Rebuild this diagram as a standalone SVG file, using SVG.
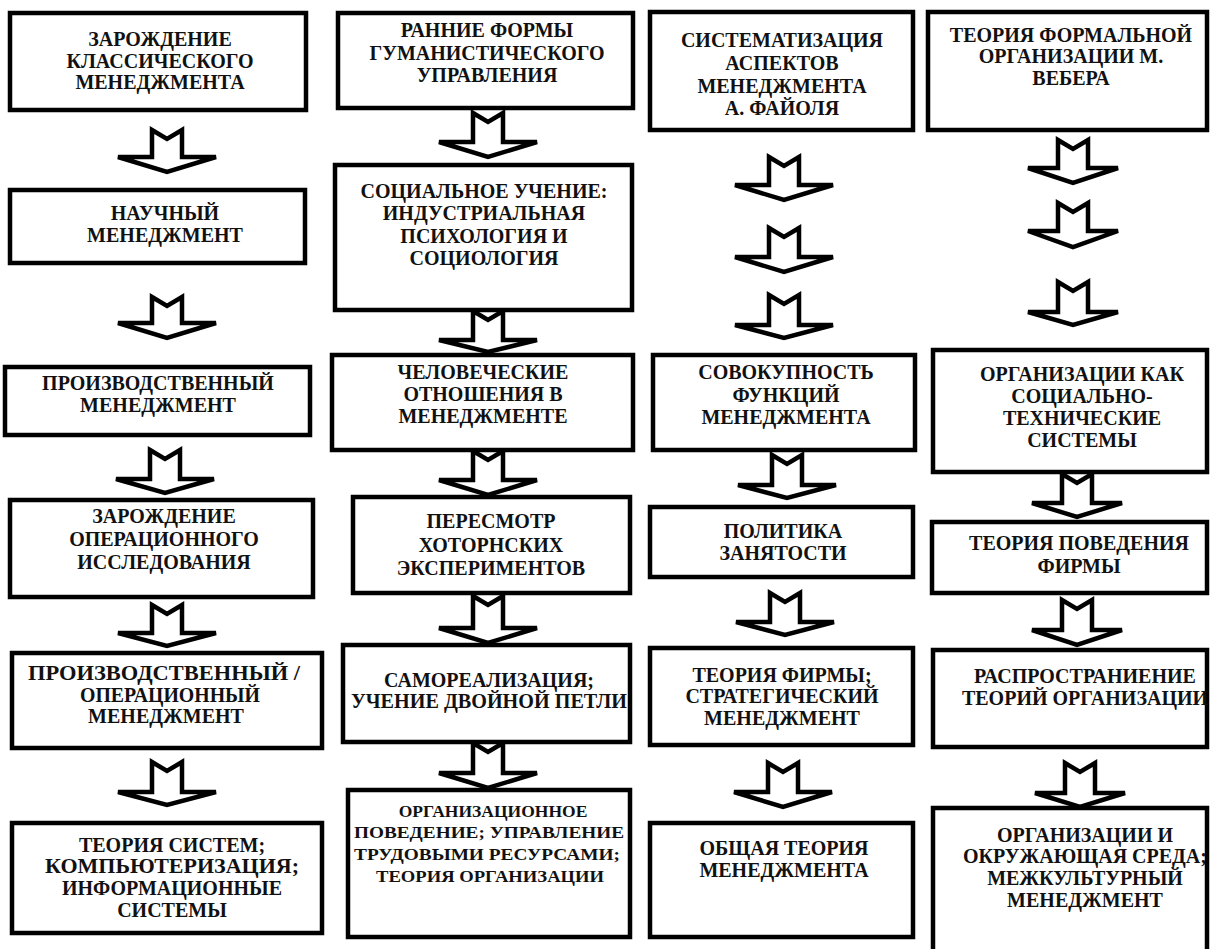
<svg xmlns="http://www.w3.org/2000/svg" width="1210" height="949" viewBox="0 0 1210 949">
  <style>
    .box { fill: #ffffff; stroke: #000000; stroke-width: 4.5; }
    .arr { fill: #ffffff; stroke: #000000; stroke-width: 4.5; stroke-linejoin: miter; }
    text { font-family: "Liberation Serif", "Times New Roman", serif; font-weight: bold; font-size: 20px; text-anchor: middle; fill: #111111; }
    .sm { font-size: 17.5px; }
  </style>
  <rect x="0" y="0" width="1210" height="949" fill="#ffffff"/>

  <!-- block arrows with notched tails -->
  <g id="connectors">
    <!-- column 1, cx 167 -->
    <path class="arr" d="M152,130 L167,139 L182,130 L182,157 L216,157 L167,172 L118,157 L152,157 Z"/>
    <path class="arr" d="M152,297 L167,306 L182,297 L182,323 L216,323 L167,338 L118,323 L152,323 Z"/>
    <path class="arr" d="M150,450 L165,459 L180,450 L180,479 L214,479 L165,493 L116,479 L150,479 Z"/>
    <path class="arr" d="M152,605 L167,614 L182,605 L182,633 L216,633 L167,646 L118,633 L152,633 Z"/>
    <path class="arr" d="M152,762 L167,771 L182,762 L182,792 L216,792 L167,805 L118,792 L152,792 Z"/>
    <!-- column 2, cx 488 -->
    <path class="arr" d="M473,113 L488,122 L503,113 L503,142 L537,142 L488,157 L439,142 L473,142 Z"/>
    <path class="arr" d="M473,311 L488,320 L503,311 L503,340 L537,340 L488,352 L439,340 L473,340 Z"/>
    <path class="arr" d="M473,451 L488,460 L503,451 L503,480 L537,480 L488,495 L439,480 L473,480 Z"/>
    <path class="arr" d="M473,596 L488,605 L503,596 L503,628 L537,628 L488,643 L439,628 L473,628 Z"/>
    <path class="arr" d="M473,743 L488,752 L503,743 L503,773 L537,773 L488,788 L439,773 L473,773 Z"/>
    <!-- column 3, cx 784 -->
    <path class="arr" d="M769,157 L784,166 L799,157 L799,185 L833,185 L784,200 L735,185 L769,185 Z"/>
    <path class="arr" d="M769,228 L784,237 L799,228 L799,257 L833,257 L784,272 L735,257 L769,257 Z"/>
    <path class="arr" d="M769,295 L784,304 L799,295 L799,325 L833,325 L784,338 L735,325 L769,325 Z"/>
    <path class="arr" d="M772,455 L787,464 L802,455 L802,485 L836,485 L787,498 L738,485 L772,485 Z"/>
    <path class="arr" d="M770,593 L785,602 L800,593 L800,622 L834,622 L785,635 L736,622 L770,622 Z"/>
    <path class="arr" d="M768,763 L783,772 L798,763 L798,792 L832,792 L783,807 L734,792 L768,792 Z"/>
    <!-- column 4 -->
    <path class="arr" d="M1058,140 L1073,149 L1088,140 L1088,168 L1118,168 L1073,183 L1028,168 L1058,168 Z"/>
    <path class="arr" d="M1058,203 L1073,212 L1088,203 L1088,231 L1118,231 L1073,247 L1028,231 L1058,231 Z"/>
    <path class="arr" d="M1058,282 L1073,291 L1088,282 L1088,312 L1118,312 L1073,325 L1028,312 L1058,312 Z"/>
    <path class="arr" d="M1062,474 L1077,483 L1092,474 L1092,503 L1122,503 L1077,517 L1032,503 L1062,503 Z"/>
    <path class="arr" d="M1062,600 L1077,609 L1092,600 L1092,630 L1122,630 L1077,645 L1032,630 L1062,630 Z"/>
    <path class="arr" d="M1065,763 L1080,772 L1095,763 L1095,793 L1125,793 L1080,807 L1035,793 L1065,793 Z"/>
  </g>

  <!-- column 1: classical management -->
  <g id="n1"><rect class="box" x="10" y="13" width="296" height="97"/>
    <text x="160" y="46">ЗАРОЖДЕНИЕ</text><text x="160" y="68">КЛАССИЧЕСКОГО</text><text x="160" y="89">МЕНЕДЖМЕНТА</text></g>
  <g id="n2"><rect class="box" x="10" y="190" width="295" height="73"/>
    <text x="165" y="220">НАУЧНЫЙ</text><text x="165" y="242">МЕНЕДЖМЕНТ</text></g>
  <g id="n3"><rect class="box" x="5" y="367" width="305" height="68"/>
    <text x="158" y="390">ПРОИЗВОДСТВЕННЫЙ</text><text x="158" y="412">МЕНЕДЖМЕНТ</text></g>
  <g id="n4"><rect class="box" x="10" y="500" width="303" height="97"/>
    <text x="164" y="523">ЗАРОЖДЕНИЕ</text><text x="164" y="546">ОПЕРАЦИОННОГО</text><text x="164" y="569">ИССЛЕДОВАНИЯ</text></g>
  <g id="n5"><rect class="box" x="12" y="653" width="310" height="95"/>
    <text x="164" y="680" textLength="272" lengthAdjust="spacingAndGlyphs">ПРОИЗВОДСТВЕННЫЙ /</text><text x="170" y="702" textLength="180" lengthAdjust="spacingAndGlyphs">ОПЕРАЦИОННЫЙ</text><text x="166" y="723">МЕНЕДЖМЕНТ</text></g>
  <g id="n6"><rect class="box" x="12" y="823" width="310" height="110"/>
    <text x="172" y="852">ТЕОРИЯ СИСТЕМ;</text><text x="172" y="873" textLength="254" lengthAdjust="spacingAndGlyphs">КОМПЬЮТЕРИЗАЦИЯ;</text><text x="172" y="895">ИНФОРМАЦИОННЫЕ</text><text x="172" y="917">СИСТЕМЫ</text></g>

  <!-- column 2: humanistic management -->
  <g id="m1"><rect class="box" x="338" y="13" width="295" height="95"/>
    <text x="487" y="37">РАННИЕ ФОРМЫ</text><text x="487" y="60">ГУМАНИСТИЧЕСКОГО</text><text x="487" y="82">УПРАВЛЕНИЯ</text></g>
  <g id="m2"><rect class="box" x="335" y="165" width="297" height="145"/>
    <text x="484" y="198">СОЦИАЛЬНОЕ УЧЕНИЕ:</text><text x="484" y="220">ИНДУСТРИАЛЬНАЯ</text><text x="484" y="243">ПСИХОЛОГИЯ И</text><text x="484" y="265">СОЦИОЛОГИЯ</text></g>
  <g id="m3"><rect class="box" x="332" y="355" width="301" height="95"/>
    <text x="483" y="379">ЧЕЛОВЕЧЕСКИЕ</text><text x="483" y="401">ОТНОШЕНИЯ В</text><text x="483" y="423">МЕНЕДЖМЕНТЕ</text></g>
  <g id="m4"><rect class="box" x="353" y="497" width="277" height="96"/>
    <text x="491" y="528">ПЕРЕСМОТР</text><text x="491" y="552">ХОТОРНСКИХ</text><text x="491" y="575">ЭКСПЕРИМЕНТОВ</text></g>
  <g id="m5"><rect class="box" x="343" y="645" width="287" height="97"/>
    <text x="489" y="687">САМОРЕАЛИЗАЦИЯ;</text><text x="489" y="708" textLength="276" lengthAdjust="spacingAndGlyphs">УЧЕНИЕ ДВОЙНОЙ ПЕТЛИ</text></g>
  <g id="m6"><rect class="box" x="348" y="790" width="282" height="147"/>
    <text class="sm" x="493" y="817">ОРГАНИЗАЦИОННОЕ</text><text class="sm" x="489" y="838" textLength="270" lengthAdjust="spacingAndGlyphs">ПОВЕДЕНИЕ; УПРАВЛЕНИЕ</text><text class="sm" x="487" y="860" textLength="266" lengthAdjust="spacingAndGlyphs">ТРУДОВЫМИ РЕСУРСАМИ;</text><text class="sm" x="490" y="882" textLength="228" lengthAdjust="spacingAndGlyphs">ТЕОРИЯ ОРГАНИЗАЦИИ</text></g>

  <!-- column 3: administrative management -->
  <g id="p1"><rect class="box" x="650" y="12" width="263" height="118"/>
    <text x="782" y="47">СИСТЕМАТИЗАЦИЯ</text><text x="782" y="70">АСПЕКТОВ</text><text x="782" y="93">МЕНЕДЖМЕНТА</text><text x="782" y="115">А. ФАЙОЛЯ</text></g>
  <g id="p2"><rect class="box" x="653" y="355" width="262" height="95"/>
    <text x="786" y="379">СОВОКУПНОСТЬ</text><text x="786" y="402">ФУНКЦИЙ</text><text x="786" y="424">МЕНЕДЖМЕНТА</text></g>
  <g id="p3"><rect class="box" x="650" y="507" width="263" height="70"/>
    <text x="783" y="538">ПОЛИТИКА</text><text x="783" y="560">ЗАНЯТОСТИ</text></g>
  <g id="p4"><rect class="box" x="650" y="648" width="263" height="97"/>
    <text x="782" y="682">ТЕОРИЯ ФИРМЫ;</text><text x="782" y="703">СТРАТЕГИЧЕСКИЙ</text><text x="782" y="725">МЕНЕДЖМЕНТ</text></g>
  <g id="p5"><rect class="box" x="650" y="823" width="263" height="114"/>
    <text x="784" y="855">ОБЩАЯ ТЕОРИЯ</text><text x="784" y="877">МЕНЕДЖМЕНТА</text></g>

  <!-- column 4: organisation theory -->
  <g id="q1"><rect class="box" x="928" y="12" width="279" height="118"/>
    <text x="1071" y="42">ТЕОРИЯ ФОРМАЛЬНОЙ</text><text x="1071" y="63">ОРГАНИЗАЦИИ М.</text><text x="1071" y="85">ВЕБЕРА</text></g>
  <g id="q2"><rect class="box" x="933" y="350" width="274" height="122"/>
    <text x="1082" y="381">ОРГАНИЗАЦИИ КАК</text><text x="1082" y="403">СОЦИАЛЬНО-</text><text x="1082" y="425">ТЕХНИЧЕСКИЕ</text><text x="1082" y="447">СИСТЕМЫ</text></g>
  <g id="q3"><rect class="box" x="932" y="522" width="275" height="71"/>
    <text x="1079" y="550">ТЕОРИЯ ПОВЕДЕНИЯ</text><text x="1079" y="573">ФИРМЫ</text></g>
  <g id="q4"><rect class="box" x="933" y="650" width="274" height="97"/>
    <text x="1085" y="683">РАСПРОСТРАНИЕНИЕ</text><text x="1085" y="705">ТЕОРИЙ ОРГАНИЗАЦИИ</text></g>
  <g id="q5"><rect class="box" x="933" y="808" width="274" height="160"/>
    <text x="1085" y="842">ОРГАНИЗАЦИИ И</text><text x="1085" y="863">ОКРУЖАЮЩАЯ СРЕДА;</text><text x="1085" y="885">МЕЖКУЛЬТУРНЫЙ</text><text x="1085" y="907">МЕНЕДЖМЕНТ</text></g>
</svg>
